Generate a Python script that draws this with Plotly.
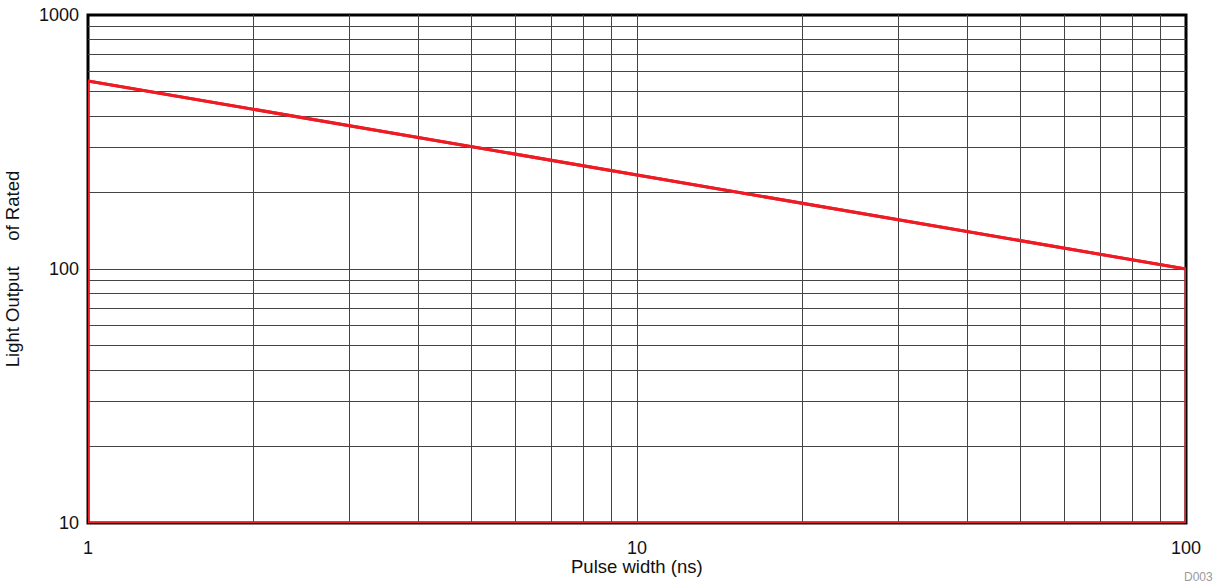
import plotly.graph_objects as go

# Data
pulse_width = [1, 100]
light_output = [550, 100]
# safe operating area outline
outline_x = [1, 1, 100, 100, 1]
outline_y = [10, 550, 100, 10, 10]

x_tickvals = [m * 10 ** e for e in range(0, 2) for m in range(1, 10)] + [100]
x_ticktext = [str(v) if v in (1, 10, 100) else "" for v in x_tickvals]
y_tickvals = [m * 10 ** e for e in range(1, 3) for m in range(1, 10)] + [1000]
y_ticktext = [str(v) if v in (10, 100, 1000) else "" for v in y_tickvals]

FONT = "Liberation Sans, Arial, sans-serif"
RED = "#ED1C24"

fig = go.Figure()
fig.add_trace(go.Scatter(x=outline_x, y=outline_y, mode="lines",
                         line=dict(color=RED, width=3), cliponaxis=False,
                         hoverinfo="skip", showlegend=False))
fig.add_trace(go.Scatter(x=pulse_width, y=light_output, mode="lines",
                         line=dict(color=RED, width=3), cliponaxis=False,
                         showlegend=False))

fig.update_layout(
    width=1220, height=586,
    margin=dict(l=88, r=34, t=15, b=63, autoexpand=False),
    paper_bgcolor="white", plot_bgcolor="white",
    font=dict(family=FONT, size=18, color="#111"),
    annotations=[
        dict(text="Pulse width (ns)", x=0.5, y=0, xref="paper", yref="paper",
             xanchor="center", yanchor="middle", yshift=-43,
             showarrow=False, font=dict(size=18.5, color="#111")),
        dict(text="D003", x=1.0, y=0, xref="paper", yref="paper",
             xanchor="right", yanchor="middle", xshift=29, yshift=-54,
             showarrow=False, font=dict(size=12, color="#999")),
    ],
    shapes=[dict(type="rect", xref="x domain", yref="y domain", x0=0, x1=1, y0=0, y1=1,
                 line=dict(color="black", width=3), layer="below")],
)
fig.update_xaxes(type="log", range=[0, 2], tickvals=x_tickvals, ticktext=x_ticktext,
                 showgrid=True, gridcolor="#444", gridwidth=1, zeroline=False,
                 ticks="", showline=False, automargin=False, ticklabelstandoff=12,
                 tickfont=dict(size=18))
fig.update_yaxes(type="log", range=[1, 3], tickvals=y_tickvals, ticktext=y_ticktext,
                 showgrid=True, gridcolor="#444", gridwidth=1, zeroline=False,
                 ticks="", showline=False, automargin=False, ticklabelstandoff=8,
                 title=dict(text="Light Output\u00a0\u00a0\u00a0\u00a0\u00a0of Rated", standoff=14,
                            font=dict(size=18.5)),
                 tickfont=dict(size=18))

fig.write_html("out.html", config={"displayModeBar": False},
               post_script="document.body.style.margin='0';")
